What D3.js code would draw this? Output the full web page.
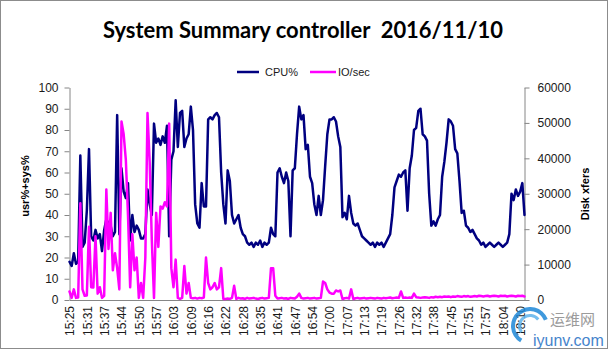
<!DOCTYPE html>
<html>
<head>
<meta charset="utf-8">
<script src="https://cdn.jsdelivr.net/npm/d3@7"></script>
<style>
  body { margin: 0; background: #fff; }
  svg { display: block; }
  .axis text { font-family: "Liberation Sans", Arial, sans-serif; font-size: 12px; fill: #1a1a1a; }
  .axis path, .axis line { stroke: #868686; }
</style>
</head>
<body>
<svg id="chart" width="608" height="349"></svg>
<script>
// nmon sample series (one reading per interval)
const cpuPct = [
  18,16,22,17,18,68,25,27,42,71, 30,28,33,29,31,23,33,38,36,35,
  30,32,87,31,62,51,48,55,28,40, 32,35,33,29,29,31,52,45,40,83,
  74,76,73,77,74,82,30,66,70,94, 72,88,89,72,76,78,91,80,45,36,
  34,55,44,44,85,86,85,87,88,86, 60,45,36,61,56,40,36,38,40,34,
  31,30,27,26,27,25,27,26,28,25, 27,26,27,34,31,30,60,62,58,55,
  60,56,30,61,62,78,91,85,87,71, 73,58,55,45,40,49,40,47,63,78,
  85,85,86,84,77,72,39,41,38,49, 41,36,35,36,33,30,29,28,27,26,
  27,25,27,26,27,25,27,29,31,40, 53,56,59,58,60,61,42,62,68,80,
  81,89,90,78,77,75,50,35,37,35, 38,40,58,65,74,85,84,82,71,69,
  56,41,42,35,34,32,33,31,29,28, 26,27,25,26,27,26,25,26,27,26,
  25,26,27,31,50,47,52,49,51,55, 40
];
const diskXfers = [
  2400,600,3000,600,700,27300,3000,1200,1300,20700, 3600,3500,18000,1800,3600,600,1200,31200,14400,24600,
  8400,13200,9000,3000,50400,46800,39600,24000,3600,18600, 8400,12000,600,4800,600,12000,52800,39000,16800,600,
  24600,15000,26400,25800,27600,26400,49800,9000,3600,11400, 600,300,600,9600,1800,4800,600,500,600,400,
  600,500,700,12000,4800,3000,3600,4800,3000,3600, 9000,300,300,400,300,600,4000,300,600,400,
  500,300,600,400,500,600,400,300,500,600, 400,500,600,9000,9000,1200,400,500,600,400,
  500,300,600,500,400,900,1800,600,400,500, 600,400,500,600,400,500,600,5200,4800,3000,
  2100,1800,1800,2700,2400,2700,300,500,600,400, 3000,300,500,600,400,500,600,400,500,600,
  500,400,600,500,400,600,500,600,700,500, 600,700,600,2400,600,700,600,700,600,1800,
  800,700,600,700,800,700,600,800,700,900, 800,900,800,1000,900,1000,800,1000,900,1100,
  1000,900,1100,1000,1100,900,1000,1100,1000,1200, 1100,1000,1100,1200,1000,1100,1200,1100,1000,1200,
  1100,1200,1000,1100,1200,1100,1000,1200,1100,1200, 1000
];
const timeLabels = [
  "15:25","15:31","15:37","15:44","15:50","15:57","16:03","16:09","16:16",
  "16:22","16:28","16:35","16:41","16:47","16:54","17:00","17:07","17:13",
  "17:19","17:26","17:32","17:38","17:45","17:51","17:57","18:04","18:10"
];
const labelStep = 8;
const cpuTicks = [0,10,20,30,40,50,60,70,80,90,100];
const xferTicks = [0,10000,20000,30000,40000,50000,60000];
const seriesNames = ["CPU%", "IO/sec"];
const seriesColors = ["#000080", "#ff00ff"];

const svg = d3.select("#chart");
const W = 608, H = 349;
const plot = { left: 69.5, right: 524.5, top: 87.5, bottom: 300 };

// outer frame
svg.append("rect").attr("x", 0.5).attr("y", 0.5).attr("width", W - 1).attr("height", H - 1)
  .attr("fill", "#fff").attr("stroke", "#8c8c8c");

const x = d3.scaleLinear().domain([0, cpuPct.length - 1]).range([plot.left, plot.right]);
const yL = d3.scaleLinear().domain([0, 100]).range([plot.bottom, plot.top]);
const yR = d3.scaleLinear().domain([0, 60000]).range([plot.bottom, plot.top]);

// title
const title = svg.append("text")
  .attr("x", 303).attr("y", 38)
  .attr("text-anchor", "middle")
  .style("white-space", "pre")
  .style("font-family", "Lato, 'Liberation Sans', sans-serif")
  .style("font-weight", "bold").style("font-size", "23px").style("fill", "#000")
  .text("System Summary controller  2016/11/10");
if (title.node().getComputedTextLength() > 400) {
  title.attr("textLength", 400).attr("lengthAdjust", "spacingAndGlyphs");
}

// legend
const legend = svg.append("g").style("font-family", "'Liberation Sans', Arial, sans-serif").style("font-size", "11px");
const legendItems = [
  { x1: 237, x2: 259, tx: 265 },
  { x1: 310, x2: 336, tx: 338 }
];
legendItems.forEach((d, i) => {
  legend.append("line").attr("x1", d.x1).attr("x2", d.x2).attr("y1", 72).attr("y2", 72)
    .attr("stroke", seriesColors[i]).attr("stroke-width", 2.5);
  legend.append("text").attr("x", d.tx).attr("y", 76).attr("fill", "#1a1a1a").text(seriesNames[i]);
});

// axes
svg.append("g").attr("class", "axis").attr("transform", `translate(${plot.left},0)`)
  .call(d3.axisLeft(yL).tickValues(cpuTicks).tickSize(5).tickSizeOuter(0).tickPadding(6));
svg.append("g").attr("class", "axis").attr("transform", `translate(${plot.right},0)`)
  .call(d3.axisRight(yR).tickValues(xferTicks).tickFormat(d3.format("d")).tickSize(5).tickSizeOuter(0).tickPadding(8));
const tickIdx = timeLabels.map((_, i) => i * labelStep);
const gB = svg.append("g").attr("class", "axis").attr("transform", `translate(0,${plot.bottom})`)
  .call(d3.axisBottom(x).tickValues(tickIdx).tickFormat((d) => timeLabels[d / labelStep]).tickSize(0).tickSizeOuter(0));
gB.selectAll("text")
  .attr("transform", "rotate(-90)")
  .attr("x", -6).attr("y", 0).attr("dy", "0.35em")
  .style("text-anchor", "end");

// axis titles
const titleFont = "'Liberation Sans', Arial, sans-serif";
svg.append("text").attr("transform", "translate(29,186) rotate(-90)").attr("text-anchor", "middle")
  .style("font-family", titleFont).style("font-size", "11px").style("font-weight", "bold")
  .text("usr%+sys%");
svg.append("text").attr("transform", "translate(589,194) rotate(-90)").attr("text-anchor", "middle")
  .style("font-family", titleFont).style("font-size", "11px").style("font-weight", "bold")
  .text("Disk xfers");

// series
const cpuLine = d3.line().x((d, i) => x(i)).y((d) => yL(d));
const ioLine = d3.line().x((d, i) => x(i)).y((d) => yR(d));
svg.append("path").datum(cpuPct).attr("d", cpuLine)
  .attr("fill", "none").attr("stroke", seriesColors[0]).attr("stroke-width", 2.5)
  .attr("stroke-linejoin", "round").attr("stroke-linecap", "round");
svg.append("path").datum(diskXfers).attr("d", ioLine)
  .attr("fill", "none").attr("stroke", seriesColors[1]).attr("stroke-width", 2.5)
  .attr("stroke-linejoin", "round").attr("stroke-linecap", "round");

// site mark, lower right corner
const mark = svg.append("g").attr("opacity", 0.85);
mark.append("path").attr("d", d3.arc()({ innerRadius: 15, outerRadius: 19, startAngle: -2.6, endAngle: 1.2 }))
  .attr("transform", "translate(530,326)").attr("fill", "#1e88d8");
mark.append("path").attr("d", d3.arc()({ innerRadius: 9, outerRadius: 12, startAngle: -2.2, endAngle: 0.9 }))
  .attr("transform", "translate(530,326)").attr("fill", "#5fb3ec");
mark.append("text").attr("x", 550).attr("y", 325)
  .style("font-family", "'Noto Sans CJK SC', sans-serif").style("font-size", "15px").style("fill", "#8a8a8a")
  .text("运维网");
mark.append("text").attr("x", 533).attr("y", 346)
  .style("font-family", "'Liberation Sans', Arial, sans-serif").style("font-size", "16px").style("fill", "#1f6fc4")
  .text("iyunv.com");
</script>
</body>
</html>
